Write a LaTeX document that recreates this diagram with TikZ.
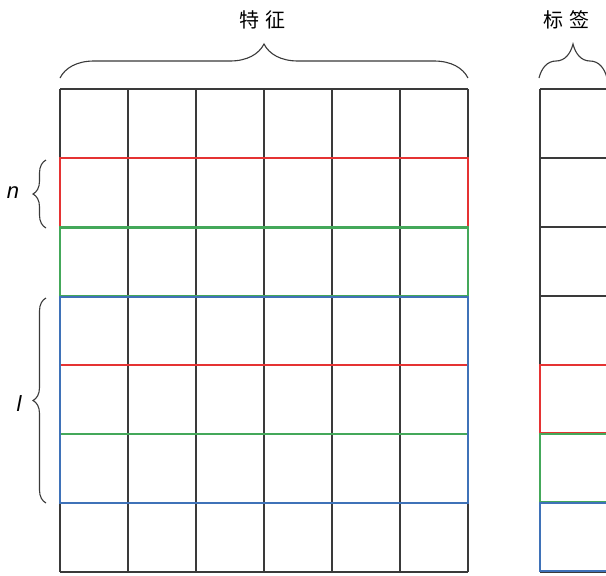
\documentclass[tikz,border=0pt]{standalone}
\usepackage{fontspec}
\setmainfont{Liberation Sans}
\newfontfamily\cjk{Noto Sans CJK SC}
\usetikzlibrary{decorations.pathreplacing}
\definecolor{gridc}{HTML}{3A3A3A}
\definecolor{myred}{HTML}{E53333}
\definecolor{mygreen}{HTML}{44A85A}
\definecolor{myblue}{HTML}{3F72B8}
\tikzset{
  gridline/.style={draw=gridc, line width=1.2pt},
  hot/.style={line width=2.2pt},
  bracestyle/.style={draw=gridc, line width=1.1pt, decorate},
  cjklabel/.style={font=\cjk\fontsize{20}{24}\selectfont, inner sep=0pt},
  varlabel/.style={font=\itshape\fontsize{22}{26}\selectfont, inner sep=0pt}
}
\begin{document}
\begin{tikzpicture}[x=1pt,y=-1pt]
\useasboundingbox[fill=white] (0,0) rectangle (606,576);
% feature grid
\foreach \c in {60,128,196,264,332,400,468} \draw[gridline] (\c,89) -- (\c,572);
\foreach \r in {89,158,227,296,365,434,503,572} \draw[gridline] (60,\r) -- (468,\r);
% label grid
\foreach \c in {540,608} \draw[gridline] (\c,89) -- (\c,572);
\foreach \r in {89,158,227,296,365,434,503,572} \draw[gridline] (540,\r) -- (608,\r);
% coloured windows on features
\draw[hot, myred] (60,158) rectangle (468,227);
\draw[hot, mygreen] (60,227.5) rectangle (468,296);
\draw[hot, myred] (60,365) -- (468,365);
\draw[hot, mygreen] (60,434) -- (468,434);
\draw[hot, myblue] (60,297) rectangle (468,503);
% coloured cells on labels
\draw[hot, myred] (540,365) rectangle (608,433);
\draw[hot, mygreen] (540,434) rectangle (608,502);
\draw[hot, myblue] (540,503) rectangle (608,571);
% braces
\coordinate (fb1) at (60,78); \coordinate (fb2) at (468,78);
\coordinate (lb1) at (539,78); \coordinate (lb2) at (607,78);
\coordinate (nb1) at (46,228); \coordinate (nb2) at (46,160);
\coordinate (ib1) at (46,503); \coordinate (ib2) at (46,298);
\draw[bracestyle, decoration={brace, amplitude=34pt}] (fb1) -- (fb2);
\draw[bracestyle, decoration={brace, amplitude=34pt}] (lb1) -- (lb2);
\draw[bracestyle, decoration={brace, amplitude=13pt}] (nb1) -- (nb2);
\draw[bracestyle, decoration={brace, amplitude=13pt}] (ib1) -- (ib2);
% labels
\node[cjklabel] (feat) at (262,20) {特\hspace{6pt}征};
\node[cjklabel] (lab) at (566,20) {标\hspace{6pt}签};
\node[varlabel] (n) at (13,193) {n};
\node[varlabel] (l) at (19,404) {l};
\end{tikzpicture}
\end{document}
